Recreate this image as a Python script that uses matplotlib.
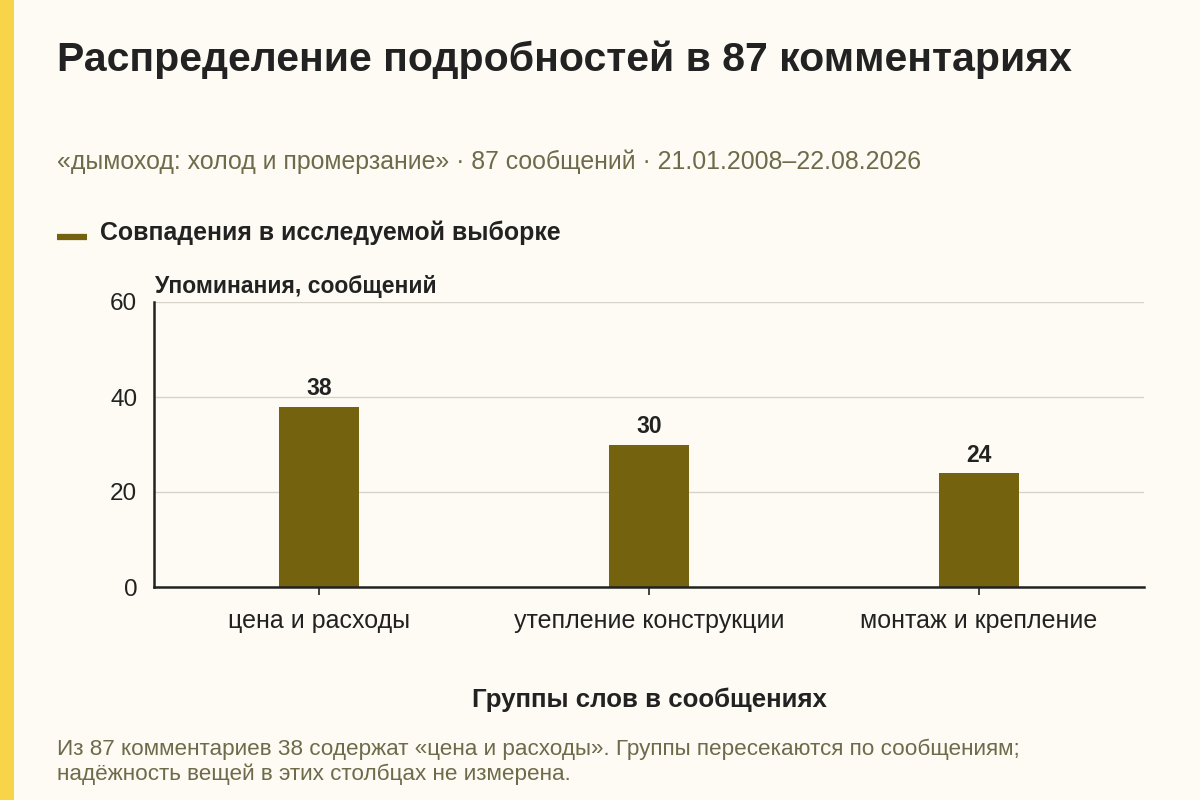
import matplotlib
matplotlib.use("Agg")
from matplotlib import pyplot as plt
from matplotlib.patches import Rectangle
from matplotlib.lines import Line2D

plt.rcParams['font.family'] = ['Liberation Sans', 'DejaVu Sans']

# data
categories = ["цена и расходы", "утепление конструкции", "монтаж и крепление"]
counts = [38, 30, 24]
y_ticks = [0, 20, 40, 60]

title = "Распределение подробностей в 87 комментариях"
subtitle = "«дымоход: холод и промерзание» · 87 сообщений · 21.01.2008–22.08.2026"
legend_label = "Совпадения в исследуемой выборке"
y_label = "Упоминания, сообщений"
x_label = "Группы слов в сообщениях"
note = ("Из 87 комментариев 38 содержат «цена и расходы». Группы пересекаются по сообщениям;\n"
        "надёжность вещей в этих столбцах не измерена.")

bg = "#FDFBF3"
bar_col = "#74620E"
dark = "#222222"
muted = "#6E6A4A"

fig = plt.figure(figsize=(12, 8), dpi=100, facecolor=bg)

# yellow stripe on the left
fig.patches.append(Rectangle((0, 0), 14 / 1200, 1, transform=fig.transFigure,
                             facecolor="#F8D548", edgecolor="none"))

ax = fig.add_axes([154 / 1200, 1 - 587 / 800, 990 / 1200, 285 / 800])
ax.set_facecolor(bg)

x = range(len(categories))
ax.bar(x, counts, width=0.24, color=bar_col, zorder=3)
for i, v in zip(x, counts):
    ax.text(i, v + 1.3, str(v), ha="center", va="bottom", fontsize=16.5,
            fontweight="bold", color=dark)

ax.set_xlim(-0.5, len(categories) - 0.5)
ax.set_ylim(0, 60)
ax.set_yticks(y_ticks)
ax.set_xticks(list(x))
ax.set_xticklabels(categories, fontsize=18, color=dark)
ax.tick_params(axis="x", length=6, width=1.2, color=dark, pad=10)
ax.tick_params(axis="y", length=0, labelsize=17.5, labelcolor=dark, pad=12)
ax.grid(axis="y", color="#D6D3CB", linewidth=1, zorder=0)

for s in ["top", "right"]:
    ax.spines[s].set_visible(False)
for s in ["left", "bottom"]:
    ax.spines[s].set_color(dark)
    ax.spines[s].set_linewidth(1.8)
    ax.spines[s].set_zorder(4)

# texts
fig.text(57 / 1200, 1 - 60 / 800, title, fontsize=29.5, fontweight="bold",
         color=dark, va="center", ha="left")
fig.text(57 / 1200, 1 - 162 / 800, subtitle, fontsize=17.9, color=muted,
         va="center", ha="left")
fig.lines.append(Line2D([57 / 1200, 87 / 1200], [1 - 237 / 800] * 2,
                        transform=fig.transFigure, color=bar_col, linewidth=4.5,
                        solid_capstyle="butt"))
fig.text(100 / 1200, 1 - 233 / 800, legend_label, fontsize=17.9, fontweight="bold",
         color=dark, va="center", ha="left")
fig.text(155 / 1200, 1 - 286 / 800, y_label, fontsize=16.5, fontweight="bold",
         color=dark, va="center", ha="left")
fig.text(649 / 1200, 1 - 700 / 800, x_label, fontsize=18.6, fontweight="bold",
         color=dark, va="center", ha="center")
fig.text(57 / 1200, 1 - 762 / 800, note, fontsize=16.2, color=muted,
         va="center", ha="left", linespacing=1.25)

fig.savefig("out.png", dpi=100, facecolor=bg)
